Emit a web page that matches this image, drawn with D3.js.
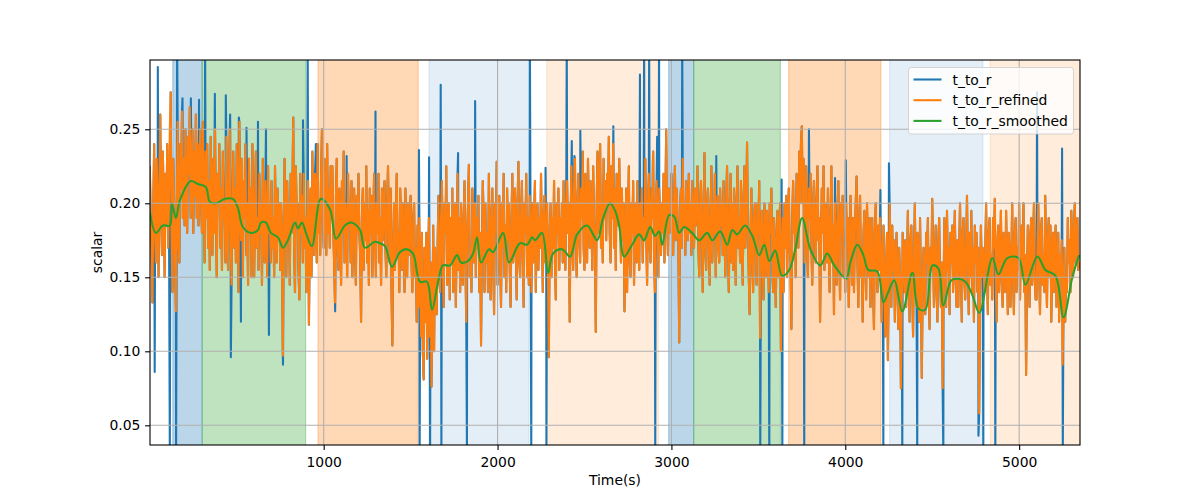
<!DOCTYPE html>
<html><head><meta charset="utf-8">
<script src="https://cdn.jsdelivr.net/npm/d3@7"></script>
<style>body{margin:0;background:#fff} svg text{font-family:"DejaVu Sans",sans-serif}</style>
</head><body><svg id="chart" width="1200" height="500"></svg>
<script>
// ---------------- DATA ----------------
const seriesNames = ["t_to_r", "t_to_r_refined", "t_to_r_smoothed"];
const STEP = 5; // seconds between refined samples
const refinedValues = [
0.225,0.19,0.17,0.133,0.2,0.24,0.18,0.16,0.23,0.2,0.15,0.21,0.26,0.19,0.165,0.235,0.2,0.15,0.22,0.185,0.24,0.17,0.2,0.25,0.275,0.18,0.14,0.23,0.2,0.16,
0.127,0.2,0.255,0.17,0.16,0.24,0.21,0.262,0.19,0.23,0.185,0.25,0.2,0.18,0.245,0.22,0.265,0.19,0.215,0.25,0.18,0.235,0.205,0.26,0.19,0.24,0.185,0.225,0.25,0.2,
0.18,0.255,0.2,0.16,0.235,0.19,0.24,0.17,0.215,0.155,0.245,0.2,0.165,0.23,0.18,0.25,0.19,0.15,0.22,0.2,0.24,0.17,0.21,0.155,0.235,0.19,0.2,0.16,0.245,0.18,
0.155,0.22,0.25,0.18,0.145,0.2,0.235,0.17,0.21,0.16,0.24,0.19,0.14,0.255,0.2,0.175,0.23,0.15,0.215,0.19,0.24,0.165,0.2,0.145,0.23,0.18,0.21,0.15,0.24,0.19,
0.15,0.2,0.235,0.17,0.19,0.155,0.22,0.18,0.2,0.145,0.23,0.175,0.16,0.215,0.19,0.15,0.225,0.18,0.2,0.16,0.215,0.17,0.19,0.15,0.225,0.185,0.16,0.21,0.175,0.2,
0.155,0.2,0.17,0.097,0.18,0.23,0.19,0.15,0.215,0.175,0.2,0.145,0.22,0.18,0.21,0.258,0.17,0.14,0.225,0.19,0.2,0.155,0.135,0.22,0.18,0.205,0.16,0.22,0.17,0.19,
0.14,0.19,0.215,0.118,0.17,0.21,0.15,0.235,0.19,0.165,0.22,0.2,0.16,0.24,0.18,0.2,0.165,0.22,0.25,0.19,0.17,0.23,0.2,0.165,0.24,0.18,0.21,0.17,0.225,0.19,
0.225,0.18,0.16,0.133,0.2,0.23,0.17,0.155,0.21,0.19,0.145,0.215,0.18,0.235,0.16,0.2,0.175,0.15,0.22,0.185,0.2,0.16,0.215,0.15,0.19,0.21,0.17,0.145,0.205,0.18,
0.22,0.18,0.165,0.12,0.19,0.21,0.155,0.2,0.175,0.225,0.16,0.195,0.145,0.21,0.18,0.205,0.15,0.19,0.22,0.17,0.15,0.2,0.18,0.22,0.16,0.19,0.145,0.21,0.175,0.2,
0.215,0.17,0.15,0.2,0.225,0.18,0.16,0.21,0.14,0.104,0.175,0.2,0.155,0.19,0.22,0.165,0.18,0.14,0.21,0.19,0.155,0.2,0.17,0.14,0.21,0.185,0.15,0.2,0.165,0.19,
0.205,0.16,0.14,0.19,0.2,0.15,0.17,0.12,0.185,0.13,0.19,0.15,0.11,0.18,0.1,0.081,0.17,0.12,0.18,0.095,0.15,0.19,0.11,0.16,0.076,0.12,0.185,0.1,0.17,0.13,
0.125,0.17,0.205,0.15,0.14,0.19,0.215,0.16,0.13,0.2,0.18,0.225,0.145,0.17,0.2,0.135,0.19,0.16,0.21,0.14,0.18,0.2,0.13,0.17,0.22,0.155,0.19,0.14,0.2,0.17,
0.145,0.19,0.215,0.16,0.12,0.18,0.2,0.226,0.15,0.17,0.14,0.21,0.185,0.16,0.2,0.15,0.19,0.17,0.205,0.14,0.18,0.104,0.17,0.215,0.19,0.14,0.2,0.16,0.18,0.14,
0.22,0.17,0.135,0.19,0.21,0.16,0.125,0.2,0.18,0.228,0.145,0.19,0.205,0.16,0.13,0.2,0.17,0.22,0.15,0.185,0.14,0.21,0.175,0.2,0.155,0.13,0.19,0.22,0.16,0.18,
0.21,0.17,0.135,0.2,0.228,0.16,0.15,0.19,0.215,0.17,0.13,0.2,0.18,0.22,0.15,0.19,0.145,0.205,0.175,0.14,0.2,0.16,0.19,0.215,0.14,0.18,0.2,0.155,0.19,0.17,
0.22,0.18,0.14,0.19,0.205,0.16,0.17,0.2,0.15,0.096,0.18,0.2,0.15,0.19,0.17,0.215,0.16,0.135,0.2,0.18,0.21,0.155,0.19,0.17,0.2,0.16,0.215,0.18,0.155,0.2,
0.215,0.18,0.2,0.12,0.19,0.225,0.17,0.155,0.21,0.23,0.18,0.15,0.2,0.22,0.175,0.16,0.21,0.19,0.235,0.17,0.155,0.22,0.195,0.16,0.23,0.2,0.17,0.215,0.185,0.155,
0.225,0.19,0.17,0.113,0.2,0.235,0.18,0.21,0.24,0.17,0.2,0.16,0.23,0.19,0.215,0.175,0.22,0.2,0.245,0.18,0.16,0.225,0.19,0.24,0.17,0.21,0.155,0.22,0.2,0.185,
0.23,0.19,0.16,0.21,0.175,0.2,0.127,0.17,0.21,0.14,0.19,0.225,0.16,0.15,0.2,0.18,0.215,0.145,0.19,0.2,0.16,0.215,0.175,0.155,0.2,0.18,0.21,0.16,0.19,0.175,
0.23,0.18,0.145,0.2,0.22,0.17,0.16,0.21,0.19,0.235,0.165,0.14,0.2,0.215,0.18,0.15,0.21,0.19,0.165,0.2,0.18,0.22,0.16,0.2,0.25,0.19,0.165,0.21,0.18,0.2,
0.22,0.185,0.165,0.2,0.225,0.175,0.21,0.19,0.17,0.106,0.2,0.21,0.17,0.23,0.185,0.2,0.165,0.215,0.19,0.175,0.22,0.18,0.2,0.165,0.215,0.19,0.17,0.21,0.185,0.2,
0.225,0.17,0.15,0.2,0.215,0.18,0.14,0.19,0.234,0.17,0.155,0.2,0.21,0.175,0.145,0.19,0.225,0.16,0.2,0.18,0.22,0.15,0.19,0.205,0.17,0.16,0.21,0.185,0.2,0.165,
0.215,0.18,0.15,0.2,0.225,0.17,0.14,0.195,0.22,0.16,0.2,0.155,0.21,0.185,0.145,0.2,0.225,0.17,0.19,0.16,0.215,0.18,0.145,0.2,0.225,0.17,0.19,0.241,0.18,0.15,
0.125,0.18,0.21,0.16,0.14,0.19,0.2,0.17,0.145,0.2,0.18,0.215,0.109,0.17,0.195,0.16,0.135,0.2,0.185,0.15,0.195,0.17,0.14,0.2,0.18,0.21,0.155,0.14,0.19,0.175,
0.13,0.17,0.195,0.15,0.18,0.2,0.1,0.16,0.19,0.14,0.2,0.17,0.205,0.15,0.185,0.21,0.17,0.16,0.115,0.19,0.215,0.18,0.2,0.15,0.22,0.19,0.17,0.235,0.2,0.24,
0.252,0.2,0.23,0.16,0.19,0.225,0.17,0.15,0.21,0.19,0.22,0.17,0.145,0.2,0.215,0.18,0.16,0.2,0.225,0.175,0.19,0.12,0.17,0.21,0.18,0.225,0.155,0.2,0.185,0.16,
0.21,0.17,0.14,0.19,0.225,0.16,0.185,0.125,0.2,0.17,0.145,0.19,0.215,0.165,0.135,0.2,0.18,0.205,0.15,0.17,0.14,0.2,0.175,0.19,0.13,0.16,0.205,0.17,0.145,0.19,
0.14,0.18,0.2,0.218,0.16,0.13,0.19,0.205,0.15,0.17,0.12,0.18,0.195,0.16,0.135,0.2,0.17,0.15,0.19,0.13,0.175,0.19,0.145,0.115,0.18,0.2,0.16,0.14,0.185,0.155,
0.19,0.16,0.12,0.17,0.185,0.14,0.11,0.16,0.18,0.094,0.15,0.2,0.17,0.13,0.185,0.155,0.175,0.12,0.16,0.18,0.14,0.115,0.17,0.15,0.075,0.13,0.18,0.16,0.14,0.175,
0.13,0.16,0.195,0.15,0.12,0.175,0.185,0.14,0.11,0.165,0.2,0.15,0.13,0.18,0.16,0.12,0.19,0.145,0.082,0.14,0.17,0.155,0.125,0.18,0.16,0.19,0.14,0.115,0.17,0.155,
0.203,0.17,0.13,0.16,0.185,0.14,0.12,0.175,0.19,0.15,0.13,0.16,0.075,0.14,0.19,0.17,0.13,0.195,0.155,0.17,0.125,0.18,0.16,0.185,0.14,0.17,0.195,0.15,0.13,0.175,
0.13,0.17,0.2,0.155,0.12,0.18,0.19,0.15,0.135,0.17,0.205,0.16,0.125,0.18,0.15,0.195,0.14,0.17,0.12,0.185,0.16,0.18,0.14,0.17,0.058,0.13,0.185,0.15,0.17,0.16,
0.14,0.17,0.2,0.155,0.125,0.18,0.19,0.145,0.165,0.135,0.19,0.17,0.203,0.15,0.12,0.175,0.185,0.14,0.16,0.195,0.15,0.13,0.18,0.17,0.14,0.195,0.16,0.125,0.18,0.165,
0.13,0.165,0.2,0.15,0.125,0.18,0.19,0.14,0.17,0.155,0.2,0.135,0.17,0.185,0.15,0.2,0.14,0.165,0.084,0.15,0.185,0.165,0.13,0.18,0.19,0.145,0.17,0.2,0.15,0.135,
0.135,0.17,0.2,0.155,0.125,0.18,0.19,0.145,0.165,0.14,0.205,0.16,0.13,0.175,0.19,0.15,0.185,0.12,0.16,0.18,0.14,0.17,0.185,0.13,0.155,0.18,0.12,0.165,0.15,0.175,
0.091,0.13,0.17,0.12,0.15,0.14,0.19,0.16,0.175,0.14,0.195,0.17,0.15,0.185,0.2,0.16,0.175,0.19,0.155,0.16
];
// samples of t_to_r that were removed as outliers in the refined series
const outlierTimes = [28,46,115,151,157,188,236,283,318,374,437,462,466,512,524,556,622,668,685,766,881,908,955,1066,1132,1298,
  1548,1552,1606,1612,1673,1677,1773,1824,1871,2186,2194,2276,2281,2398,2427,2442,2476,2666,2819,2843,2872,2893,2907,2918,2929,
  3062,3258,3511,3563,3634,3638,3764,3791,3941,4003,4202,4219,4251,4328,4414,4564,4766,4794,4863,5103,5247,5251];
const outlierValues = [0.086,0.292,0.03,0.03,0.31,0.271,0.271,0.27,0.31,0.274,0.273,0.26,0.096,0.258,0.12,0.251,0.255,0.25,0.111,0.091,0.256,0.31,0.24,0.127,0.232,0.262,
  0.236,0.03,0.231,0.03,0.28,0.03,0.234,0.03,0.269,0.31,0.03,0.224,0.03,0.31,0.242,0.232,0.249,0.252,0.287,0.31,0.31,0.228,0.03,0.245,0.31,
  0.31,0.232,0.03,0.03,0.216,0.03,0.03,0.25,0.217,0.229,0.209,0.03,0.227,0.03,0.03,0.03,0.043,0.03,0.03,0.275,0.237,0.03];
const smoothTimes = [0,35,75,115,127,150,173,236,276,322,345,380,432,478,506,535,581,622,639,668,696,737,766,794,835,852,875,898,932,984,1036,1071,1122,1157,1209,1237,1295,
  1324,1353,1393,1439,1479,1514,1554,1594,1623,1658,1686,1727,1767,1790,1830,1859,1882,1905,1951,1974,2032,2066,2129,2170,2199,2216,2256,2291,2319,2371,2417,2458,2515,2573,2607,2647,
  2676,2699,2728,2774,2814,2843,2878,2906,2929,2947,2987,3016,3045,3073,3119,3160,3206,3235,3281,3321,3350,3378,3424,3465,3505,3534,3563,3597,3637,3678,3712,3752,3799,3856,3896,3937,4005,
  4029,4069,4104,4132,4184,4219,4247,4282,4328,4386,4420,4460,4501,4535,4564,4610,4650,4691,4731,4771,4846,4881,4932,4996,5036,5105,5151,5209,5255,5306,5345];
const smoothValues = [0.194,0.18,0.185,0.185,0.2,0.19,0.202,0.215,0.213,0.211,0.201,0.2,0.203,0.203,0.197,0.184,0.18,0.182,0.187,0.187,0.18,0.177,0.17,0.175,0.187,0.183,0.187,0.18,0.171,0.203,0.196,0.176,0.185,0.187,0.182,0.17,0.174,
  0.173,0.171,0.157,0.167,0.169,0.166,0.147,0.147,0.128,0.147,0.158,0.158,0.165,0.16,0.161,0.166,0.177,0.16,0.169,0.167,0.18,0.16,0.173,0.172,0.177,0.175,0.18,0.153,0.166,0.169,0.164,0.179,0.185,0.175,0.19,0.2,
  0.195,0.185,0.164,0.172,0.179,0.175,0.184,0.178,0.181,0.172,0.192,0.191,0.18,0.184,0.18,0.175,0.18,0.175,0.181,0.172,0.182,0.179,0.185,0.178,0.165,0.172,0.161,0.168,0.151,0.155,0.169,0.19,0.169,0.158,0.166,0.158,0.149,
  0.16,0.172,0.165,0.155,0.154,0.133,0.14,0.148,0.127,0.153,0.129,0.128,0.158,0.156,0.131,0.148,0.149,0.147,0.138,0.126,0.163,0.152,0.163,0.163,0.145,0.164,0.155,0.151,0.123,0.15,0.165];
// shaded phases
const spanStarts = [132,301,967,1606,2283,2984,3128,3674,4255,4834];
const spanEnds   = [301,896,1544,2181,2925,3128,3627,4205,4792,5350];
const spanKinds  = ["A","B","C","D","E","A","B","C","D","E"];
const xTicks = [1000,2000,3000,4000,5000];
const yTicks = [0.05,0.10,0.15,0.20,0.25];

// ---------------- STYLE / LAYOUT ----------------
const L = 150, R = 1080, T = 60, B = 445;
const LW = 2.08;
const colors = {"t_to_r":"#1f77b4","t_to_r_refined":"#ff7f0e","t_to_r_smoothed":"#2ca02c"};
const spanStyle = {A:["#1f77b4",0.3],B:["#2ca02c",0.3],C:["#ff7f0e",0.3],D:["#1f77b4",0.12],E:["#ff7f0e",0.15]};

const svg = d3.select("#chart");
const x = d3.scaleLinear().domain([1, 5350]).range([L, R]);
const y = d3.scaleLinear().domain([0.0367, 0.2968]).range([B, T]);

svg.append("defs").append("clipPath").attr("id","plotclip")
  .append("rect").attr("x",L).attr("y",T).attr("width",R-L).attr("height",B-T);

const plot = svg.append("g").attr("clip-path","url(#plotclip)");

// spans
spanStarts.forEach((s,i)=>{
  const st = spanStyle[spanKinds[i]];
  plot.append("rect")
    .attr("x", x(s)).attr("y", T-2).attr("width", x(spanEnds[i]) - x(s)).attr("height", B-T+4)
    .attr("fill", st[0]).attr("fill-opacity", st[1])
    .attr("stroke", st[0]).attr("stroke-opacity", st[1]).attr("stroke-width", 1.2);
});

// grid
const grid = svg.append("g");
xTicks.forEach(t=>grid.append("line").attr("x1",x(t)).attr("x2",x(t)).attr("y1",T).attr("y2",B)
  .attr("stroke","#b0b0b0").attr("stroke-width",1.1));
yTicks.forEach(t=>grid.append("line").attr("x1",L).attr("x2",R).attr("y1",y(t)).attr("y2",y(t))
  .attr("stroke","#b0b0b0").attr("stroke-width",1.1));

// series
const refined = refinedValues.map((v,i)=>({t:i*STEP, v:v}));
const outliers = outlierTimes.map((t,i)=>({t:t, v:outlierValues[i]}));
const raw = refined.filter(p=>!outlierTimes.includes(p.t)).concat(outliers).sort((a,b)=>a.t-b.t);
const smoothed = smoothTimes.map((t,i)=>({t:t, v:smoothValues[i]}));

const line = d3.line().x(d=>x(d.t)).y(d=>y(d.v));
const curve = d3.line().x(d=>x(d.t)).y(d=>y(d.v)).curve(d3.curveCatmullRom.alpha(0.5));

plot.append("path").datum(raw).attr("d",line).attr("fill","none")
  .attr("stroke",colors["t_to_r"]).attr("stroke-width",LW).attr("stroke-linejoin","round");
plot.append("path").datum(refined).attr("d",line).attr("fill","none")
  .attr("stroke",colors["t_to_r_refined"]).attr("stroke-width",LW).attr("stroke-linejoin","round");
plot.append("path").datum(smoothed).attr("d",curve).attr("fill","none")
  .attr("stroke",colors["t_to_r_smoothed"]).attr("stroke-width",LW).attr("stroke-linejoin","round");

// axes
const xAxis = svg.append("g").attr("transform",`translate(0,${B})`)
  .call(d3.axisBottom(x).tickValues(xTicks).tickFormat(d3.format("d")).tickSize(4.9).tickPadding(6.8));
const yAxis = svg.append("g").attr("transform",`translate(${L},0)`)
  .call(d3.axisLeft(y).tickValues(yTicks).tickFormat(d3.format(".2f")).tickSize(4.9).tickPadding(4.8));
[xAxis,yAxis].forEach(a=>{
  a.select(".domain").remove();
  a.selectAll(".tick line").attr("stroke","#000").attr("stroke-width",1.1);
  a.selectAll(".tick text").attr("fill","#000").style("font-size","13.9px").style("font-family","DejaVu Sans");
});

// spines
svg.append("rect").attr("x",L).attr("y",T).attr("width",R-L).attr("height",B-T)
  .attr("fill","none").attr("stroke","#000").attr("stroke-width",1.1);

// labels
svg.append("text").attr("x",(L+R)/2).attr("y",485).attr("text-anchor","middle")
  .style("font-size","13.9px").text("Time(s)");
svg.append("text").attr("transform",`translate(102,${(T+B)/2}) rotate(-90)`).attr("text-anchor","middle")
  .style("font-size","13.9px").text("scalar");

// legend
const lg = svg.append("g");
lg.append("rect").attr("x",908.5).attr("y",67.5).attr("width",165).attr("height",66.5).attr("rx",2.8)
  .attr("fill","#fff").attr("fill-opacity",0.8).attr("stroke","#ccc").attr("stroke-opacity",0.8).attr("stroke-width",1);
seriesNames.forEach((n,i)=>{
  const cy = 79.5 + i*20.7;
  lg.append("line").attr("x1",913.5).attr("x2",941.5).attr("y1",cy).attr("y2",cy)
    .attr("stroke",colors[n]).attr("stroke-width",LW);
  lg.append("text").attr("x",952.5).attr("y",cy+5).style("font-size","13.9px").text(n);
});
</script></body></html>
